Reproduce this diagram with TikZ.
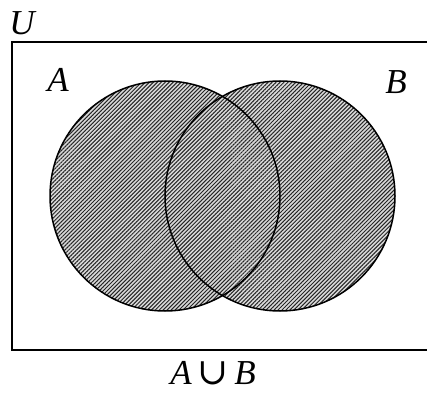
\documentclass[tikz,border=0pt]{standalone}
\usepackage{fontspec}
\setmainfont{Liberation Serif}
\newfontfamily\unionfont{DejaVu Serif}
\usetikzlibrary{patterns.meta}
\tikzset{
  setlabel/.style={font=\fontsize{35}{40}\selectfont\itshape, inner sep=0pt},
  hatch/.style={pattern={Lines[angle=45,distance=2.8pt,line width=1pt]}, pattern color=black!85},
}
\begin{document}
\begin{tikzpicture}[x=1pt,y=1pt]
        \useasboundingbox (0, 0) rectangle (427, 394);
        \coordinate (cA) at (165, 198);
        \coordinate (cB) at (280, 198);
        \fill[gray!30](cA) circle[radius=115] (cB) circle[radius=115];
        \fill[hatch](cA) circle[radius=115] (cB) circle[radius=115];
        \draw[line width=1.5pt](cA) circle[radius=115];
        \draw[line width=1.5pt](cB) circle[radius=115];
        \draw[line width=1.2pt](12, 352) rectangle (440, 44);
        \node (U) at (22, 371) [setlabel] {U};
        \node (A) at (58, 314) [setlabel] {A};
        \node (B) at (396, 312) [setlabel] {B};
        \node (AuB) at (213, 21) [setlabel] {A\,{\upshape\unionfont\fontsize{37}{40}\selectfont ∪}\,B};
    \end{tikzpicture}
\end{document}
